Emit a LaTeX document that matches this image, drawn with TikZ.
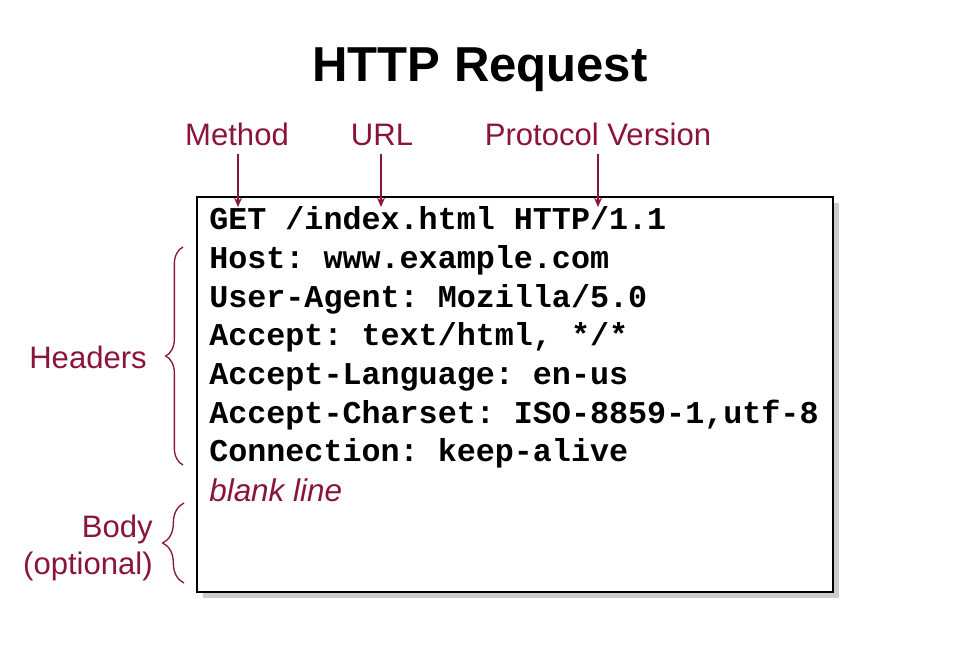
\documentclass[tikz,border=0pt]{standalone}
\usepackage{fontspec}
\setmainfont{Liberation Sans}
\setmonofont{Liberation Mono}
\usepackage{xcolor}
\usetikzlibrary{decorations.pathreplacing}
\usetikzlibrary{arrows.meta}

\definecolor{wine}{HTML}{8A1538}

\begin{document}
\begin{tikzpicture}[x=0.75pt,y=-0.75pt,
  code/.style={anchor=base west,inner sep=0pt,font=\fontsize{23.8}{28}\ttfamily\bfseries},
  tag/.style={inner sep=0pt,text=wine,font=\fontsize{23.3}{28}\selectfont},
  pointer/.style={draw=wine,line width=1.1pt,-{Stealth[length=7pt,width=6pt]}},
  curly/.style={draw=wine,line width=1pt,decorate,decoration={brace,amplitude=#1}}]
\useasboundingbox (0,0) rectangle (960,666);
\node[anchor=base,inner sep=0pt,font=\fontsize{36.8}{40}\bfseries\selectfont] (title) at (480,82) {HTTP Request};
% message box with shadow
\fill[gray!40] (203,203) rectangle (839,598);
\draw[fill=white,line width=1pt] (197,197) rectangle (833,592);
\node[code] (l1) at (209,230) {GET /index.html HTTP/1.1};
\node[code] (l2) at (209,268.6) {Host: www.example.com};
\node[code] (l3) at (209,307.2) {User-Agent: Mozilla/5.0};
\node[code] (l4) at (209,345.8) {Accept: text/html, */*};
\node[code] (l5) at (209,384.4) {Accept-Language: en-us};
\node[code] (l6) at (209,423) {Accept-Charset: ISO-8859-1,utf-8};
\node[code] (l7) at (209,461.6) {Connection: keep-alive};
\node[code,font=\fontsize{23.6}{28}\itshape,text=wine] (l8) at (209,501) {blank line};
% labels above
\node[tag,anchor=base] (method) at (237,146) {Method};
\node[tag,anchor=base] (url) at (382,146) {URL};
\node[tag,anchor=base] (proto) at (598,146) {Protocol Version};
\coordinate (m) at (238,207);
\coordinate (u) at (381,207);
\coordinate (p) at (598,207);
\draw[pointer] (method.south -| m) ++(0,7) -- (m);
\draw[pointer] (url.south -| u) ++(0,7) -- (u);
\draw[pointer] (proto.south -| p) ++(0,7) -- (p);
% labels on the left
\node[tag,anchor=base east] (headers) at (147,369) {Headers};
\node[tag,anchor=base east] (body) at (153,537) {Body};
\node[tag,anchor=base east] (opt) at (153,574) {(optional)};
\coordinate (h1) at (183,247);
\coordinate (h2) at (183,465);
\coordinate (b1) at (184,503);
\coordinate (b2) at (184,583);
\draw[curly=13pt] (h2) -- (h1);
\draw[curly=16pt] (b2) -- (b1);
\end{tikzpicture}
\end{document}
